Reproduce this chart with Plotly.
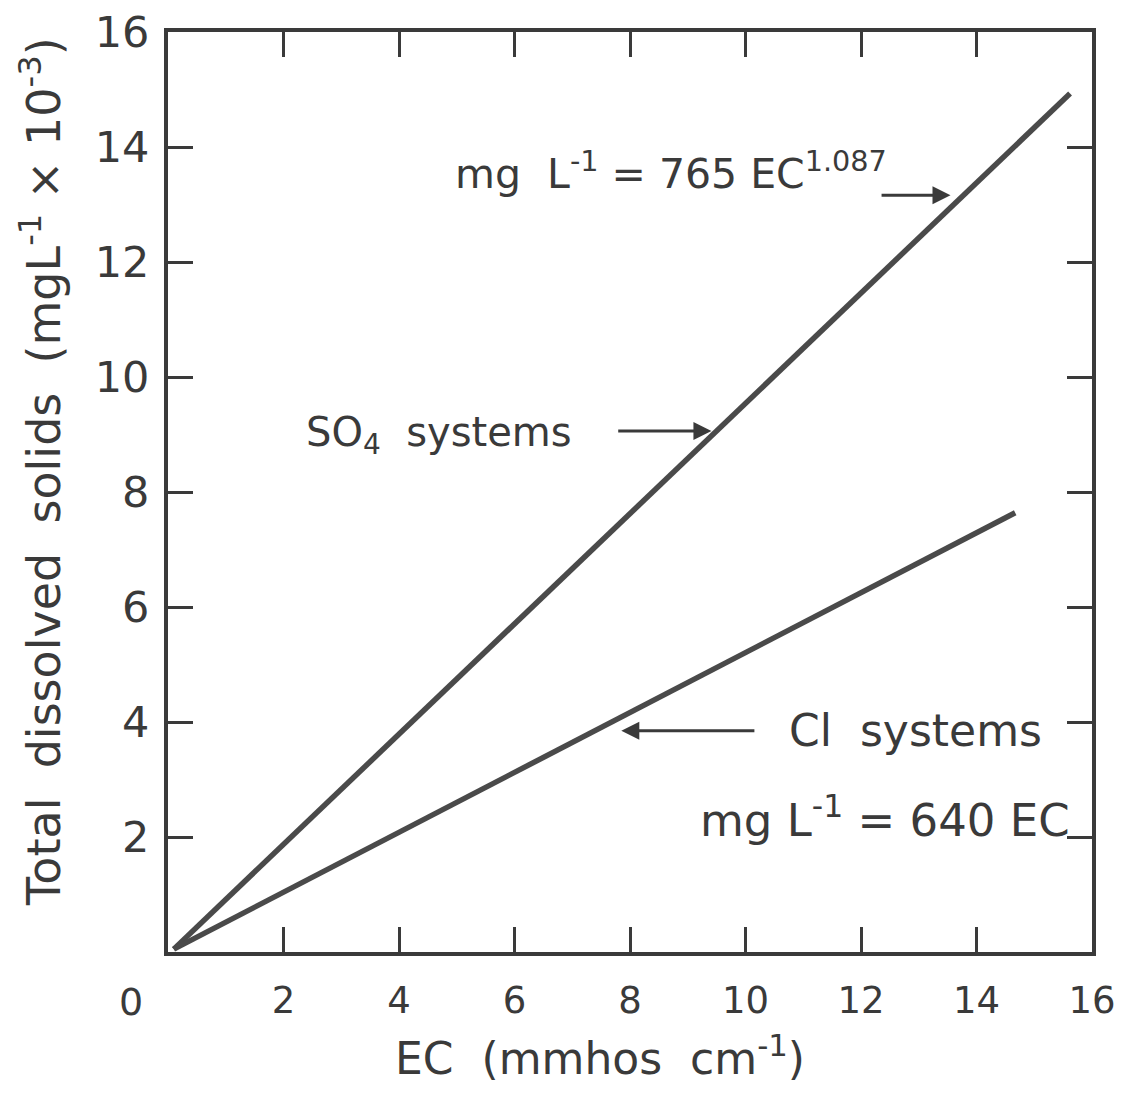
import plotly.graph_objects as go

# Data
so4_ec = [0.1, 15.62]
so4_tds = [0.05, 14.93]
cl_ec = [0.1, 14.67]
cl_tds = [0.05, 7.64]

x_ticks = [2, 4, 6, 8, 10, 12, 14, 16]
y_ticks = [2, 4, 6, 8, 10, 12, 14, 16]

FONT = "DejaVu Sans"
INK = "#3a3a3a"
LINE = "#4a4a4a"

# The page body adds a small offset; the figure is sized to compensate.
W, H = 1117, 1100
ML, MR, MT, MB = 160, 33, 24, 156

fig = go.Figure()
fig.add_trace(go.Scatter(x=so4_ec, y=so4_tds, mode="lines",
                         line=dict(color=LINE, width=5.5), name="SO4 systems",
                         showlegend=False))
fig.add_trace(go.Scatter(x=cl_ec, y=cl_tds, mode="lines",
                         line=dict(color=LINE, width=5.5), name="Cl systems",
                         showlegend=False))

annotations = [
    dict(x=4.94, y=13.59, xref="x", yref="y", xanchor="left", yanchor="middle",
         text="mg  L<sup>-1</sup> = 765 EC<sup>1.087</sup>", showarrow=False,
         font=dict(family=FONT, size=41, color=INK)),
    dict(x=2.35, y=9.0, xref="x", yref="y", xanchor="left", yanchor="middle",
         text="SO<sub>4</sub>  systems", showarrow=False,
         font=dict(family=FONT, size=40, color=INK)),
    dict(x=10.72, y=3.85, xref="x", yref="y", xanchor="left", yanchor="middle",
         text="Cl  systems", showarrow=False,
         font=dict(family=FONT, size=44, color=INK)),
    dict(x=9.18, y=2.34, xref="x", yref="y", xanchor="left", yanchor="middle",
         text="mg L<sup>-1</sup> = 640 EC", showarrow=False,
         font=dict(family=FONT, size=45, color=INK)),
    # arrows
    dict(x=13.55, y=13.16, ax=12.33, ay=13.16, xref="x", yref="y",
         axref="x", ayref="y", text="", showarrow=True, arrowhead=2,
         arrowsize=1.2, arrowwidth=3, arrowcolor=INK),
    dict(x=9.41, y=9.06, ax=7.77, ay=9.06, xref="x", yref="y",
         axref="x", ayref="y", text="", showarrow=True, arrowhead=2,
         arrowsize=1.2, arrowwidth=3, arrowcolor=INK),
    dict(x=7.85, y=3.85, ax=10.18, ay=3.85, xref="x", yref="y",
         axref="x", ayref="y", text="", showarrow=True, arrowhead=2,
         arrowsize=1.2, arrowwidth=3, arrowcolor=INK),
    # origin label
    dict(x=0, y=0, xref="x", yref="paper", xanchor="center", yanchor="middle",
         xshift=-37, yshift=-50, text="0", showarrow=False,
         font=dict(family=FONT, size=38, color=INK)),
    # axis titles
    dict(x=(600 - 8 - ML) / (W - ML - MR), y=-(1055 - 8 - (H - MB)) / (H - MT - MB),
         xref="paper", yref="paper", xanchor="center", yanchor="middle",
         text="EC  (mmhos  cm<sup>-1</sup>)", showarrow=False,
         font=dict(family=FONT, size=44, color=INK)),
    dict(x=-(ML - (41 - 8)) / (W - ML - MR), y=((H - MB) - (472 - 8)) / (H - MT - MB),
         xref="paper", yref="paper", xanchor="center", yanchor="middle",
         textangle=-90,
         text="Total  dissolved  solids  (mgL<sup>-1</sup> × 10<sup>-3</sup>)",
         showarrow=False, font=dict(family=FONT, size=46, color=INK)),
]

fig.update_layout(
    width=W, height=H,
    margin=dict(l=ML, r=MR, t=MT, b=MB),
    paper_bgcolor="white", plot_bgcolor="white",
    font=dict(family=FONT, color=INK),
    annotations=annotations,
    showlegend=False,
)

fig.update_xaxes(
    range=[0, 16], tickvals=x_ticks, ticktext=[str(v) for v in x_ticks],
    ticks="inside", ticklen=25, tickwidth=3, tickcolor=INK,
    showline=True, linewidth=4, linecolor=INK, mirror="allticks",
    showgrid=False, zeroline=False, automargin=False,
    ticklabeloverflow="allow",
    tickfont=dict(family=FONT, size=37, color=INK), ticklabelstandoff=13,
)
fig.update_yaxes(
    range=[0, 16], tickvals=y_ticks, ticktext=[str(v) for v in y_ticks],
    ticks="inside", ticklen=25, tickwidth=3, tickcolor=INK,
    showline=True, linewidth=4, linecolor=INK, mirror="allticks",
    showgrid=False, zeroline=False, automargin=False,
    ticklabeloverflow="allow",
    tickfont=dict(family=FONT, size=43, color=INK), ticklabelstandoff=6,
)

fig.write_html("out.html")
